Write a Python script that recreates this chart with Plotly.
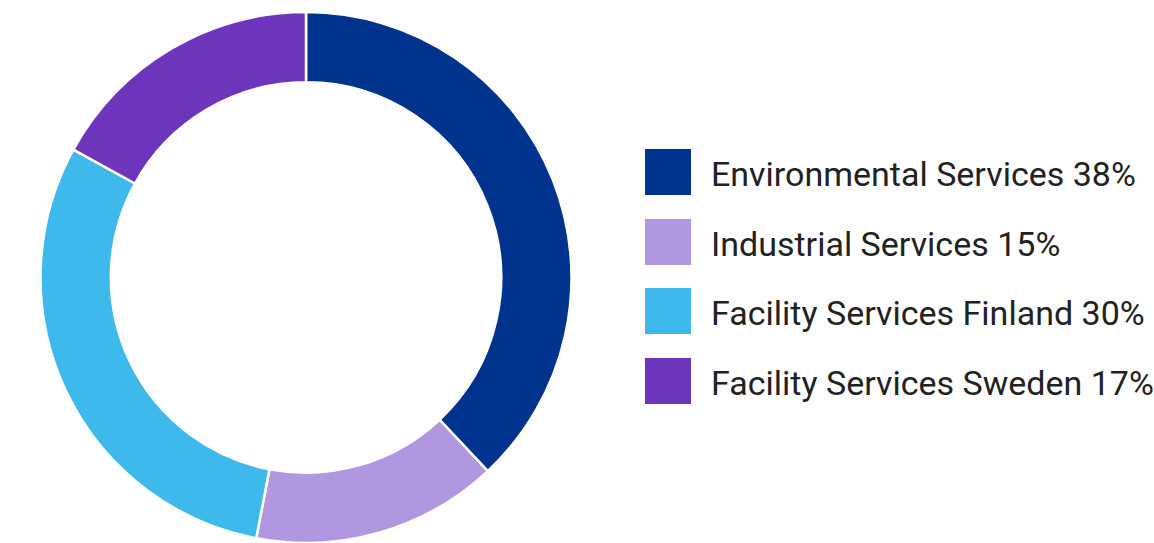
import plotly.graph_objects as go

# Revenue split by division
labels = ["Environmental Services", "Industrial Services",
          "Facility Services Finland", "Facility Services Sweden"]
shares = [38, 15, 30, 17]
colors = ["#00338D", "#B196E0", "#3DB9EB", "#6C35BC"]

W, H = 1154, 543

fig = go.Figure(go.Pie(
    labels=labels,
    values=shares,
    hole=0.735,
    sort=False,
    direction="clockwise",
    rotation=0,
    marker=dict(colors=colors, line=dict(color="white", width=2.5)),
    textinfo="none",
    hoverinfo="label+percent",
    showlegend=False,
    domain=dict(x=[40 / W, 572 / W], y=[0.0, 531 / H]),
))

# Custom legend: coloured squares with label text to the right
sq = 46
x0 = 645
y_tops = [149, 219, 288, 358]
for lab, val, col, yt in zip(labels, shares, colors, y_tops):
    fig.add_shape(type="rect", xref="paper", yref="paper",
                  x0=x0 / W, x1=(x0 + sq) / W,
                  y0=1 - (yt + sq) / H, y1=1 - yt / H,
                  fillcolor=col, line=dict(width=0))
    fig.add_annotation(xref="paper", yref="paper",
                       x=709 / W, y=1 - (yt + sq / 2 + 2) / H,
                       xanchor="left", yanchor="middle",
                       text=f"{lab} {val}%", showarrow=False,
                       font=dict(family="Roboto", size=34, color="#222222"))

fig.update_layout(
    width=W, height=H,
    margin=dict(l=0, r=0, t=0, b=0),
    paper_bgcolor="white", plot_bgcolor="white",
)

fig.write_html("out.html")
